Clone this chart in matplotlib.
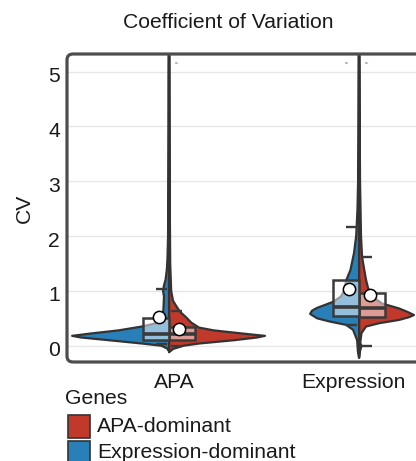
import matplotlib
matplotlib.use("Agg")
import matplotlib.pyplot as plt
from matplotlib.patches import Rectangle, FancyBboxPatch, Polygon
import matplotlib.transforms as mtrans
import numpy as np

plt.rcParams['font.family'] = ['Liberation Sans', 'DejaVu Sans']

# ---------------- data ----------------
categories = ["APA", "Expression"]
groups = ["APA-dominant", "Expression-dominant"]
colors = {"APA-dominant": "#c0392b", "Expression-dominant": "#2980b9"}

# violin density profiles: CV values and relative density (1.0 = widest half)
apa_expr_cv = [-0.1, -0.05, 0.0, 0.04, 0.1, 0.15, 0.18, 0.22, 0.28, 0.35, 0.42, 0.5, 0.7,
               0.9, 1.0, 1.1, 1.2, 1.4, 1.6, 2.0, 3.0, 4.0, 5.0, 5.3]
apa_expr_den = [0.0, 0.02, 0.08, 0.28, 0.62, 0.91, 1.0, 0.82, 0.52, 0.28, 0.11, 0.065, 0.057,
                0.052, 0.062, 0.052, 0.036, 0.022, 0.016, 0.01, 0.008, 0.006, 0.005, 0.004]

apa_apa_cv = [-0.12, -0.06, 0.0, 0.04, 0.1, 0.15, 0.18, 0.22, 0.28, 0.33, 0.42, 0.52, 0.62,
              0.73, 0.82, 1.0, 1.5, 2.5, 4.0, 5.3]
apa_apa_den = [0.0, 0.04, 0.15, 0.31, 0.67, 0.91, 0.99, 0.77, 0.46, 0.31, 0.23, 0.175, 0.113,
               0.072, 0.041, 0.022, 0.012, 0.008, 0.006, 0.004]

ex_expr_cv = [-0.22, -0.1, 0.1, 0.29, 0.38, 0.44, 0.5, 0.58, 0.64, 0.69, 0.8, 0.9, 1.0, 1.2,
              1.38, 1.69, 2.0, 2.2, 2.5, 3.0, 4.0, 5.0, 5.3]
ex_expr_den = [0.0, 0.012, 0.02, 0.062, 0.134, 0.30, 0.433, 0.505, 0.485, 0.433, 0.268, 0.186,
               0.155, 0.131, 0.089, 0.052, 0.03, 0.024, 0.016, 0.01, 0.007, 0.005, 0.004]

ex_apa_cv = [-0.22, -0.1, 0.0, 0.05, 0.23, 0.35, 0.41, 0.47, 0.52, 0.56, 0.62, 0.68, 0.77,
             0.9, 1.05, 1.2, 1.4, 1.62, 2.0, 3.0, 4.0, 5.0, 5.3]
ex_apa_den = [0.0, 0.01, 0.025, 0.012, 0.025, 0.072, 0.206, 0.412, 0.515, 0.567, 0.495, 0.412,
              0.237, 0.134, 0.093, 0.072, 0.052, 0.031, 0.02, 0.01, 0.007, 0.005, 0.004]

# box statistics: [lower whisker, Q1, median, Q3, upper whisker], mean
box_stats = {
    ("APA", "Expression-dominant"): [0.03, 0.10, 0.22, 0.51, 1.03],
    ("APA", "APA-dominant"): [0.0, 0.10, 0.22, 0.35, 0.64],
    ("Expression", "Expression-dominant"): [0.37, 0.55, 0.71, 1.20, 2.17],
    ("Expression", "APA-dominant"): [0.0, 0.53, 0.68, 0.97, 1.62],
}
means = {
    ("APA", "Expression-dominant"): 0.52,
    ("APA", "APA-dominant"): 0.31,
    ("Expression", "Expression-dominant"): 1.03,
    ("Expression", "APA-dominant"): 0.92,
}
profiles = {
    ("APA", "Expression-dominant"): (apa_expr_cv, apa_expr_den),
    ("APA", "APA-dominant"): (apa_apa_cv, apa_apa_den),
    ("Expression", "Expression-dominant"): (ex_expr_cv, ex_expr_den),
    ("Expression", "APA-dominant"): (ex_apa_cv, ex_apa_den),
}
yticks = [0, 1, 2, 3, 4, 5]

# ---------------- figure ----------------
FS = 15.2
W, H = 416, 461
fig = plt.figure(figsize=(W / 100, H / 100), dpi=100)
L, R, T, B = 67, 425, 54, 362
ax = fig.add_axes([L / W, 1 - B / H, (R - L) / W, (B - T) / H])
ax.set_xlim(-0.537, 1.347)
ax.set_ylim(-0.297, 5.32)

for s in ax.spines.values():
    s.set_visible(False)
ax.set_yticks(yticks)
ax.set_yticklabels([str(t) for t in yticks], fontsize=FS, color="#1a1a1a")
ax.tick_params(axis="y", length=0, pad=5)
for lab in ax.get_yticklabels():
    lab.set_transform(lab.get_transform() + mtrans.ScaledTranslation(0, -3 / 100, fig.dpi_scale_trans))
ax.set_xticks([0, 1])
ax.set_xticklabels(categories, fontsize=FS, color="#1a1a1a")
ax.tick_params(axis="x", length=0, pad=8)
offs = [5, -6]
for lab, o in zip(ax.get_xticklabels(), offs):
    lab.set_transform(lab.get_transform() + mtrans.ScaledTranslation(o / 100, 0, fig.dpi_scale_trans))
ax.grid(axis="y", color="#e6e6e6", linewidth=1.0)
ax.set_axisbelow(True)
ax.set_ylabel("CV", fontsize=FS, color="#1a1a1a", labelpad=10)

maxw = 0.51
boxw = 0.137
edge = "#333333"
for ci, cat in enumerate(categories):
    for g in groups:
        side = -1 if g == "Expression-dominant" else 1
        cv, den = profiles[(cat, g)]
        cv = np.asarray(cv)
        w = np.asarray(den) * maxw
        xs = np.concatenate([ci + side * w, [ci, ci]])
        ys = np.concatenate([cv, [cv[-1], cv[0]]])
        ax.add_patch(Polygon(np.column_stack([xs, ys]), closed=True, facecolor=colors[g],
                             edgecolor=edge, linewidth=1.6, zorder=3, joinstyle="round"))
        lw, q1, med, q3, uw = box_stats[(cat, g)]
        x0 = ci if side > 0 else ci - boxw
        ax.add_patch(Rectangle((x0, q1), boxw, q3 - q1, facecolor=(1, 1, 1, 0.5),
                               edgecolor="#3a3a3a", linewidth=1.8, zorder=4))
        ax.plot([x0, x0 + boxw], [med, med], color="#3a3a3a", linewidth=2.6, zorder=5,
                solid_capstyle="butt")
        cx0, cx1 = (ci + 0.012, ci + 0.068) if side > 0 else (ci - 0.068, ci - 0.012)
        for val in (lw, uw):
            ax.plot([cx0, cx1], [val, val], color="#3a3a3a", linewidth=1.7, zorder=5,
                    solid_capstyle="butt")
        ax.scatter([ci + side * 0.055], [means[(cat, g)]], s=78, facecolor="white",
                   edgecolor="black", linewidth=1.1, zorder=6)

# tiny significance marks at top
for xx in (0.04, 0.935, 1.04):
    ax.text(xx, 5.15, "n.s.", fontsize=2, color="#555555", ha="center", va="center", zorder=6)

# rounded panel border
border = FancyBboxPatch((L / 100, (H - B) / 100), (R - L) / 100, (B - T) / 100,
                        boxstyle="round,pad=0,rounding_size=0.06", transform=fig.dpi_scale_trans,
                        facecolor="none", edgecolor="#4d4d4d", linewidth=2.3, zorder=10)
fig.patches.append(border)

# title
fig.text(228 / W, 1 - 22 / H, "Coefficient of Variation", fontsize=FS, color="#1a1a1a",
         ha="center", va="center")

# legend
fig.text(65 / W, 1 - 398 / H, "Genes", fontsize=FS, color="#1a1a1a", ha="left", va="center")
for i, g in enumerate(groups):
    top = 415 + i * 26
    fig.patches.append(Rectangle((68 / W, 1 - (top + 23) / H), 22 / W, 23 / H,
                                 transform=fig.transFigure, facecolor=colors[g],
                                 edgecolor="#333333", linewidth=1.2))
    fig.text(97 / W, 1 - (top + 11.5) / H, g, fontsize=FS, color="#1a1a1a",
             ha="left", va="center")

fig.savefig("out.png", dpi=100)
